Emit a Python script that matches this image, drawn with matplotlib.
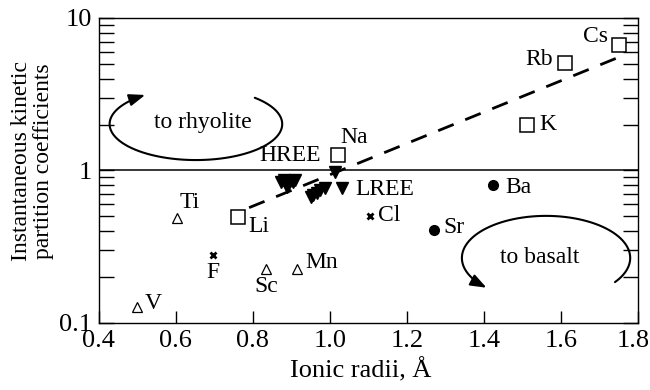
import matplotlib

matplotlib.use("Agg")
import matplotlib.pyplot as plt
import numpy as np
from matplotlib.patches import FancyArrowPatch
from matplotlib.path import Path
from matplotlib.ticker import FixedLocator, LogLocator, NullFormatter
from matplotlib.transforms import ScaledTranslation

plt.rcParams["font.family"] = ["Liberation Serif", "DejaVu Serif"]
plt.rcParams["font.size"] = 17

# open squares: alkalis
alkali_names = ["Cs", "Rb", "K", "Na", "Li"]
alkali_x = [1.751, 1.61, 1.512, 1.021, 0.761]
alkali_y = [6.65, 5.07, 1.99, 1.26, 0.495]

# filled circles: alkaline earths
earth_names = ["Ba", "Sr"]
earth_x = [1.423, 1.27]
earth_y = [0.80, 0.407]

# crosses: halogens
halogen_names = ["Cl", "F"]
halogen_x = [1.104, 0.696]
halogen_y = [0.50, 0.279]

# open triangles: transition metals
metal_names = ["Ti", "V", "Sc", "Mn"]
metal_x = [0.603, 0.499, 0.834, 0.914]
metal_y = [0.489, 0.127, 0.226, 0.226]

# filled down triangles: rare earths
hree_x = [0.872, 0.880, 0.888, 0.896, 0.905, 0.910]
hree_y = [0.84, 0.86, 0.78, 0.85, 0.84, 0.87]
lree_x = [0.950, 0.955, 0.966, 0.975, 0.987, 1.013, 1.031]
lree_y = [0.67, 0.69, 0.71, 0.74, 0.77, 0.97, 0.77]

# dashed trend through the alkalis
trend_x = [0.79, 1.755]
trend_y = [0.57, 5.6]

# label offsets in pixels (dx, dy, ha)
label_offsets = {
    "Cs": (-11, 8, "right"), "Rb": (-12, 3, "right"), "K": (12, 0, "left"),
    "Na": (2, 18, "left"), "Li": (10, -10, "left"),
    "Ba": (12, -2, "left"), "Sr": (9, 2, "left"),
    "Cl": (8, 1, "left"), "F": (0, -18, "center"),
    "Ti": (3, 15, "left"), "V": (8, 4, "left"),
    "Sc": (0, -18, "center"), "Mn": (8, 6, "left"),
}


def loop_arrow(ax, cx, cy, rx, ry, a0, a1):
    t = np.radians(np.linspace(a0, a1, 80))
    verts = np.column_stack([cx + rx * np.cos(t), cy + ry * np.sin(t)])
    codes = [Path.MOVETO] + [Path.LINETO] * (len(verts) - 1)
    arrow = FancyArrowPatch(path=Path(verts, codes),
                            arrowstyle="-|>,head_length=0.8,head_width=0.3",
                            mutation_scale=12, color="black", lw=1.5,
                            transform=ax.transAxes)
    ax.add_patch(arrow)


fig = plt.figure(figsize=(6.5, 3.9), dpi=100)
ax = fig.add_axes([0.152, 0.172, 0.830, 0.782])

ax.axhline(1, color="black", lw=1.1)
ax.plot(trend_x, trend_y, color="black", lw=2, dashes=(6, 4.5))

ax.plot(alkali_x, alkali_y, "s", ms=9.5, mfc="white", mec="black", mew=1.1)
ax.plot(earth_x, earth_y, "o", ms=7, color="black")
ax.plot(halogen_x, halogen_y, "x", ms=5, color="black", mew=2)
ax.plot(metal_x, metal_y, "^", ms=6.5, mfc="white", mec="black", mew=0.9)
ax.plot(hree_x, hree_y, "v", ms=8, color="black")
ax.plot(lree_x, lree_y, "v", ms=8, color="black")

for names, xs, ys in [(alkali_names, alkali_x, alkali_y),
                      (earth_names, earth_x, earth_y),
                      (halogen_names, halogen_x, halogen_y),
                      (metal_names, metal_x, metal_y)]:
    for name, x, y in zip(names, xs, ys):
        dx, dy, ha = label_offsets[name]
        ax.annotate(name, (x, y), xytext=(dx, dy), textcoords="offset pixels",
                    ha=ha, va="center")

ax.annotate("HREE", (hree_x[-1], hree_y[-1]), xytext=(26, 24),
            textcoords="offset pixels", ha="right", va="center")
ax.annotate("LREE", (lree_x[-1], lree_y[-1]), xytext=(13, -2),
            textcoords="offset pixels", ha="left", va="center")

loop_arrow(ax, 0.18, 0.652, 0.16, 0.118, 47, -234)
ax.text(0.193, 0.656, "to rhyolite", transform=ax.transAxes,
        ha="center", va="center")
loop_arrow(ax, 0.829, 0.213, 0.156, 0.138, -35, 225)
ax.text(0.818, 0.213, "to basalt", transform=ax.transAxes,
        ha="center", va="center")

ax.set_xlim(0.4, 1.8)
ax.set_yscale("log")
ax.set_ylim(0.1, 10)
ax.xaxis.set_major_locator(FixedLocator(np.arange(0.4, 1.81, 0.2)))
ax.set_xticklabels([f"{v:.1f}" for v in np.arange(0.4, 1.81, 0.2)])
ax.yaxis.set_major_locator(FixedLocator([0.1, 1, 10]))
ax.set_yticklabels(["0.1", "1", "10"])
ax.yaxis.set_minor_locator(LogLocator(base=10, subs=np.arange(2, 10)))
ax.yaxis.set_minor_formatter(NullFormatter())
ax.tick_params(axis="x", direction="in", length=9, width=1, top=False,
               labelsize=19, pad=5)
ax.tick_params(axis="y", which="both", direction="in", right=True,
               length=11, width=1, labelsize=19, pad=5)
for side in ax.spines.values():
    side.set_linewidth(1)

# nudge the last x label so it stays inside the canvas
last = ax.get_xticklabels()[-1]
last.set_transform(last.get_transform()
                   + ScaledTranslation(-4 / 72, 0, fig.dpi_scale_trans))

ax.set_xlabel("Ionic radii, Å", fontsize=19)
ax.xaxis.set_label_coords(0.486, -0.154)
ax.xaxis.label.set_va("center")
ax.set_ylabel("Instantaneous kinetic\npartition coefficients", fontsize=17,
              linespacing=1.05)
ax.yaxis.set_label_coords(-0.123, 0.531)
ax.yaxis.label.set_va("center")

fig.savefig("out.png", dpi=100)
